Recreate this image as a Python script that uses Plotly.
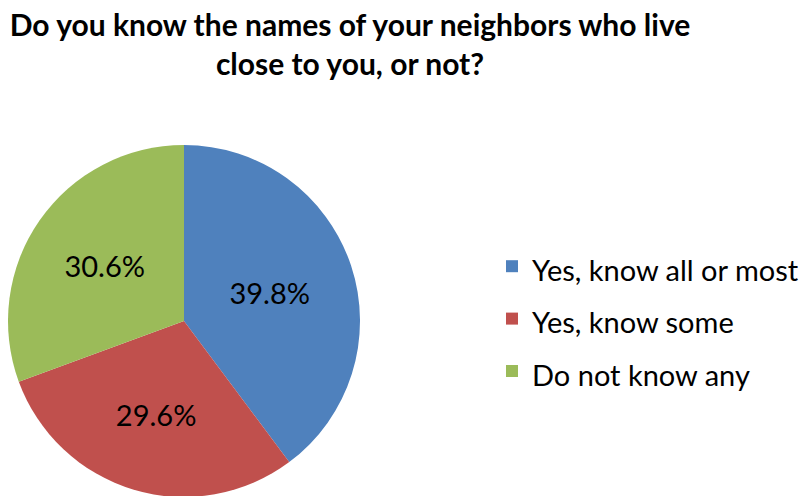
import plotly.graph_objects as go

labels = ["Yes, know all or most", "Yes, know some", "Do not know any"]
values = [39.8, 29.6, 30.6]
colors = ["#4F81BD", "#C0504D", "#9BBB59"]
title_text = "Do you know the names of your neighbors who live<br>close to you, or not?"

W, H = 808, 496
legend_labels = ["<span style='font-size:29px'>%s</span>" % s for s in labels]

fig = go.Figure(go.Pie(
    labels=legend_labels,
    values=values,
    sort=False,
    direction="clockwise",
    rotation=0,
    marker=dict(colors=colors, line=dict(width=0)),
    textinfo="percent",
    texttemplate="%{percent:.1%}",
    textposition="inside",
    insidetextorientation="horizontal",
    textfont=dict(family="Lato", size=29, color="black"),
    domain=dict(x=[0, 352 / W], y=[7 / H, 1 - 137 / H]),
    hoverinfo="percent",
))

fig.update_layout(
    width=W, height=H,
    margin=dict(l=0, r=0, t=0, b=0),
    paper_bgcolor="white",
    plot_bgcolor="white",
    title=dict(
        text=title_text,
        x=342 / W, xanchor="center",
        y=1 - 28 / H, yanchor="top",
        font=dict(family="Lato", size=30, color="black", weight="bold"),
    ),
    legend=dict(
        x=484 / W, xanchor="left",
        y=1 - 311 / H, yanchor="middle",
        font=dict(family="Lato", size=38, color="black"),
        itemwidth=30,
        bgcolor="rgba(0,0,0,0)",
    ),
    showlegend=True,
)

fig.write_html("out.html")
